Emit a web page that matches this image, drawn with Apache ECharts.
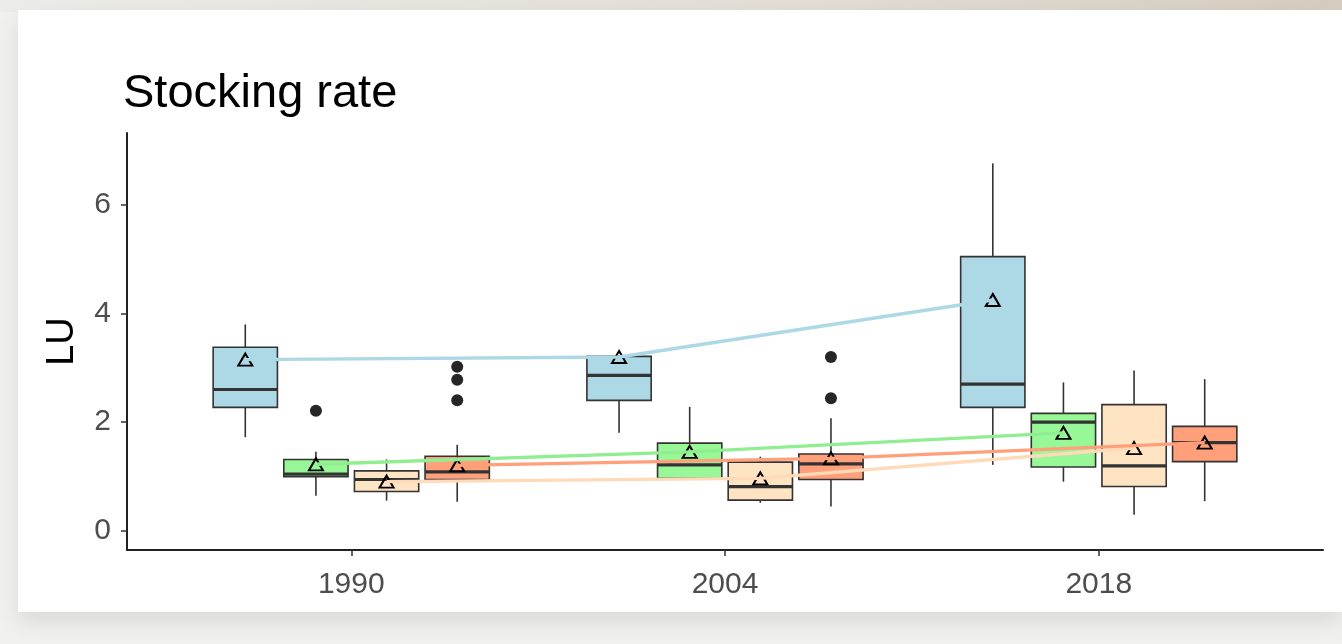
<!DOCTYPE html>
<html>
<head>
<meta charset="utf-8">
<title>Stocking rate</title>
<script src="https://cdn.jsdelivr.net/npm/echarts@6/dist/echarts.min.js"></script>
<style>
  html, body { margin: 0; padding: 0; width: 1342px; height: 644px; overflow: hidden; background: #f1f1f0; }
  #topStrip { position: absolute; left: 0; top: 0; width: 1342px; height: 12px;
    background: linear-gradient(to right, #ececea, #e2ded6 60%, #d5cdbf); }
  #card { position: absolute; left: 18px; top: 10px; width: 1324px; height: 602px; background: #ffffff;
    box-shadow: 0 10px 22px rgba(0,0,0,0.10); }
  #chart { position: absolute; left: 0; top: 0; width: 1342px; height: 644px; }
</style>
</head>
<body>
<div id="topStrip"></div>
<div id="card"></div>
<div id="chart"></div>
<script>
// Survey years on the x axis
const years = ['1990', '2004', '2018'];
const yTicks = [0, 2, 4, 6];

// Box statistics per year: [lower whisker, Q1, median, Q3, upper whisker]
const statsBlue  = [[1.72, 2.27, 2.60, 3.38, 3.80], [1.80, 2.40, 2.86, 3.21, 3.21], [1.21, 2.27, 2.70, 5.05, 6.77]];
const statsGreen = [[0.64, 0.99, 1.04, 1.31, 1.45], [0.96, 0.96, 1.21, 1.61, 2.28], [0.90, 1.17, 2.00, 2.16, 2.73]];
const statsPeach = [[0.55, 0.72, 0.94, 1.10, 1.31], [0.51, 0.56, 0.81, 1.26, 1.36], [0.29, 0.81, 1.19, 2.32, 2.95]];
const statsCoral = [[0.53, 0.94, 1.08, 1.37, 1.58], [0.44, 0.94, 1.23, 1.41, 2.07], [0.54, 1.27, 1.62, 1.92, 2.79]];

// Group means per year
const meansBlue  = [3.15, 3.20, 4.25];
const meansGreen = [1.22, 1.45, 1.80];
const meansPeach = [0.90, 0.96, 1.52];
const meansCoral = [1.20, 1.33, 1.62];

// Outliers: [year index, value]
const outliersBlue  = [];
const outliersGreen = [[0, 2.21]];
const outliersPeach = [];
const outliersCoral = [[0, 3.02], [0, 2.78], [0, 2.40], [1, 3.20], [1, 2.44]];

// Styling and dodge layout
const groups = [
  { stats: statsBlue,  means: meansBlue,  out: outliersBlue,  fill: '#ADD8E6', line: '#ADD8E6' },
  { stats: statsGreen, means: meansGreen, out: outliersGreen, fill: '#98F898', line: '#90EE90' },
  { stats: statsPeach, means: meansPeach, out: outliersPeach, fill: '#FFE4C4', line: '#FFDAB9' },
  { stats: statsCoral, means: meansCoral, out: outliersCoral, fill: '#FFA07A', line: '#FFA07A' }
];
const DODGE = [-0.2835, -0.0945, 0.0945, 0.2835];
const BOX_W = 0.172;
const INK = '#333333';
const FONT = '"Liberation Sans", Arial, sans-serif';

function xPos(yearIdx, g) { return yearIdx + 1 + DODGE[g]; }

function boxRenderer(fill) {
  return function (params, api) {
    const x = api.value(0);
    const lo = api.coord([x, api.value(1)]);
    const q1 = api.coord([x, api.value(2)]);
    const md = api.coord([x, api.value(3)]);
    const q3 = api.coord([x, api.value(4)]);
    const hi = api.coord([x, api.value(5)]);
    const left = api.coord([x - BOX_W / 2, 0])[0];
    const right = api.coord([x + BOX_W / 2, 0])[0];
    const cx = lo[0];
    const children = [];
    if (hi[1] < q3[1]) children.push({ type: 'line', shape: { x1: cx, y1: hi[1], x2: cx, y2: q3[1] }, style: { stroke: INK, lineWidth: 1.6 } });
    if (lo[1] > q1[1]) children.push({ type: 'line', shape: { x1: cx, y1: q1[1], x2: cx, y2: lo[1] }, style: { stroke: INK, lineWidth: 1.6 } });
    children.push({ type: 'rect', shape: { x: left, y: q3[1], width: right - left, height: q1[1] - q3[1] },
      style: { fill: fill, stroke: INK, lineWidth: 1.6 } });
    children.push({ type: 'line', shape: { x1: left, y1: md[1], x2: right, y2: md[1] }, style: { stroke: INK, lineWidth: 3.2 } });
    return { type: 'group', children: children };
  };
}

const series = [];
groups.forEach(function (grp, g) {
  series.push({
    type: 'custom', z: 2, silent: true,
    renderItem: boxRenderer(grp.fill),
    encode: { x: 0, y: [1, 2, 3, 4, 5] },
    data: grp.stats.map(function (s, i) { return [xPos(i, g)].concat(s); })
  });
});
groups.forEach(function (grp, g) {
  if (!grp.out.length) return;
  series.push({
    type: 'scatter', z: 3, silent: true, symbol: 'circle', symbolSize: 12,
    itemStyle: { color: '#262626', opacity: 1 },
    data: grp.out.map(function (o) { return [xPos(o[0], g), o[1]]; })
  });
});
groups.forEach(function (grp, g) {
  series.push({
    type: 'scatter', z: 4, silent: true, symbol: 'triangle', symbolSize: [14, 12],
    itemStyle: { color: 'rgba(0,0,0,0)', borderColor: '#000', borderWidth: 2, opacity: 1 },
    data: grp.means.map(function (m, i) { return [xPos(i, g), m]; })
  });
});
groups.forEach(function (grp, g) {
  series.push({
    type: 'line', z: 5, silent: true, showSymbol: false,
    lineStyle: { color: grp.line, width: 3.4 },
    data: grp.means.map(function (m, i) { return [xPos(i, g), m]; })
  });
});

const chart = echarts.init(document.getElementById('chart'), null, { renderer: 'canvas' });
chart.setOption({
  animation: false,
  backgroundColor: 'transparent',
  title: {
    text: 'Stocking rate', left: 123, top: 71, padding: 0,
    textStyle: { fontFamily: FONT, fontSize: 47, fontWeight: 'normal', color: '#000' }
  },
  grid: { left: 127, top: 133, right: 19, bottom: 94, containLabel: false },
  xAxis: {
    type: 'value', min: 0.4, max: 3.6,
    splitLine: { show: false },
    axisLine: { show: true, onZero: false, lineStyle: { color: '#222', width: 2 } },
    axisTick: { show: true, length: 6, customValues: [1, 2, 3], lineStyle: { color: INK, width: 1.5 } },
    axisLabel: {
      customValues: [1, 2, 3], margin: 20,
      formatter: function (v) { return years[Math.round(v) - 1]; },
      fontFamily: FONT, fontSize: 30, color: '#4D4D4D'
    }
  },
  yAxis: {
    type: 'value', min: -0.36, max: 7.33,
    name: 'LU', nameLocation: 'middle', nameRotate: 90, nameGap: 45,
    nameTextStyle: { fontFamily: FONT, fontSize: 38, color: '#000' },
    splitLine: { show: false },
    axisLine: { show: true, onZero: false, lineStyle: { color: '#222', width: 2 } },
    axisTick: { show: true, length: 6, customValues: yTicks, lineStyle: { color: INK, width: 1.5 } },
    axisLabel: { customValues: yTicks, margin: 16, fontFamily: FONT, fontSize: 30, color: '#4D4D4D' }
  },
  series: series
});
</script>
</body>
</html>
